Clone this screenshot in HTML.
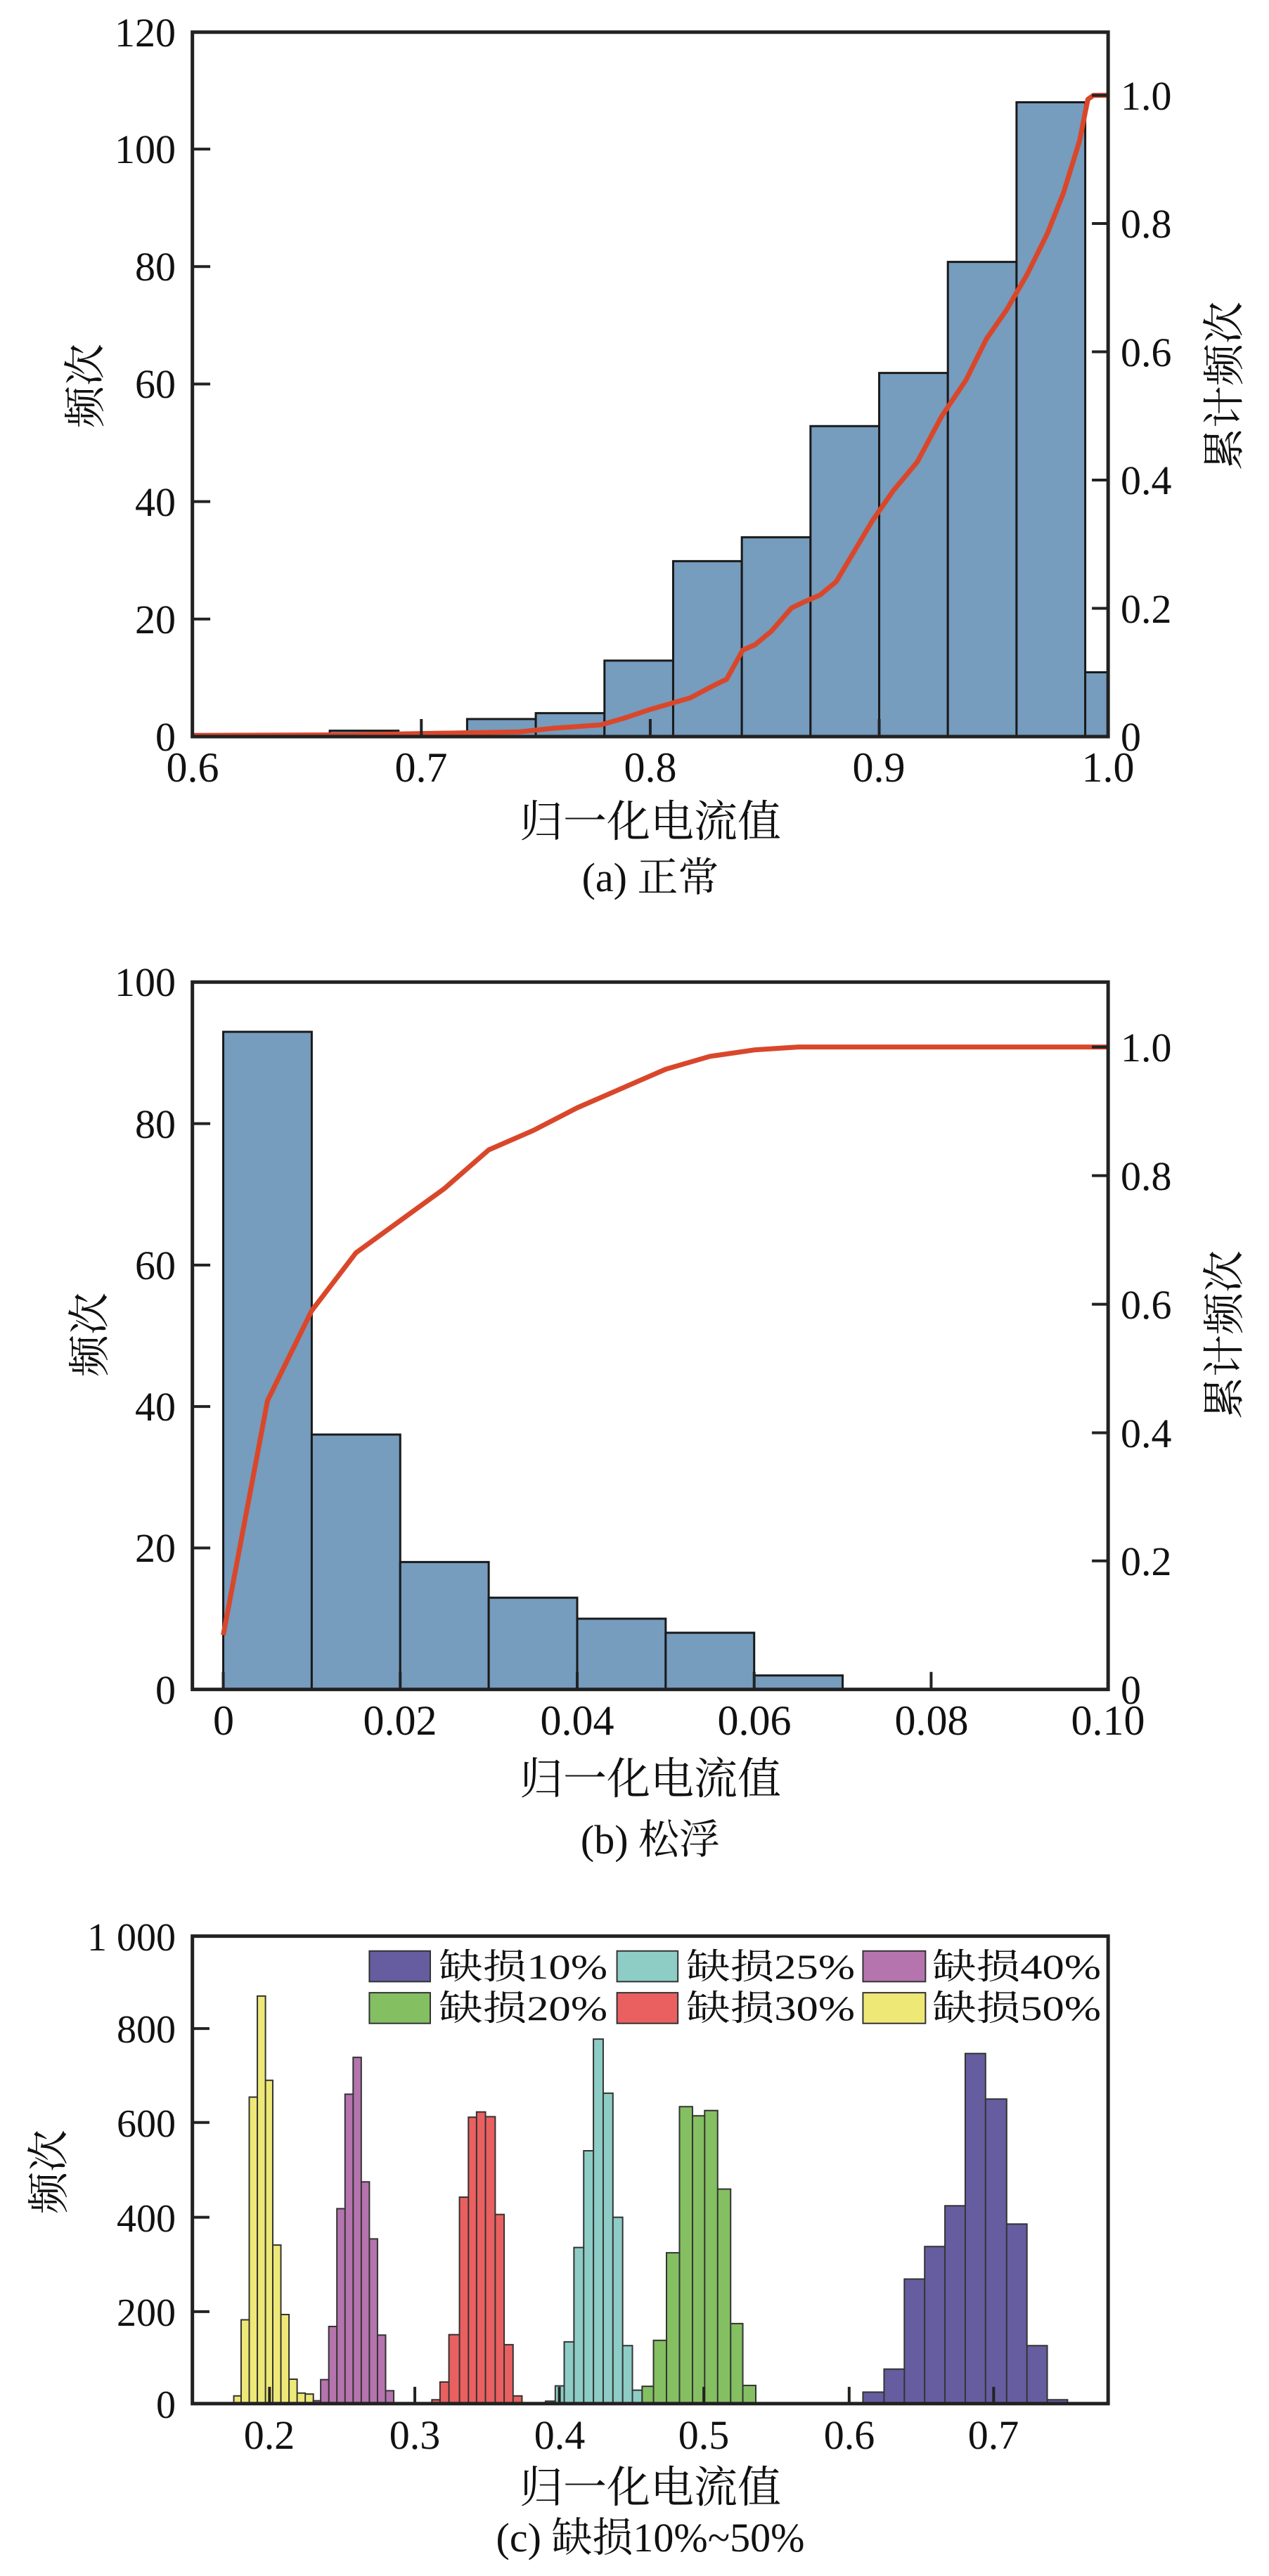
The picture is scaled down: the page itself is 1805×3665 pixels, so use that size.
<!DOCTYPE html>
<html><head><meta charset="utf-8"><style>
html,body{margin:0;padding:0;background:#fff;}
svg{display:block;}
text{font-family:"Liberation Serif","Noto Serif CJK SC","Noto Sans CJK SC",serif;fill:#111;}
</style></head><body>
<svg width="1805" height="3665" viewBox="0 0 1805 3665" xmlns="http://www.w3.org/2000/svg">
<rect width="1805" height="3665" fill="#fff"/>

<!-- ===== Panel (a) ===== -->
<g transform="translate(0,0) scale(1.1547,0.8317)">
 <g fill="#769CBE" stroke="#1a1a1a">
  <rect x="406.2" y="1250" width="84.6" height="10" stroke-width="3" vector-effect="non-scaling-stroke"/>
  <rect x="575.4" y="1230" width="84.6" height="30" stroke-width="3" vector-effect="non-scaling-stroke"/>
  <rect x="660" y="1220" width="84.6" height="40" stroke-width="3" vector-effect="non-scaling-stroke"/>
  <rect x="744.6" y="1130" width="84.6" height="130" stroke-width="3" vector-effect="non-scaling-stroke"/>
  <rect x="829.2" y="960" width="84.6" height="300" stroke-width="3" vector-effect="non-scaling-stroke"/>
  <rect x="913.8" y="919" width="84.6" height="341" stroke-width="3" vector-effect="non-scaling-stroke"/>
  <rect x="998.4" y="729" width="84.6" height="531" stroke-width="3" vector-effect="non-scaling-stroke"/>
  <rect x="1083" y="638" width="84.6" height="622" stroke-width="3" vector-effect="non-scaling-stroke"/>
  <rect x="1167.6" y="448" width="84.6" height="812" stroke-width="3" vector-effect="non-scaling-stroke"/>
  <rect x="1252.2" y="175" width="84.6" height="1085" stroke-width="3" vector-effect="non-scaling-stroke"/>
  <rect x="1336.8" y="1150" width="28.2" height="110" stroke-width="3" vector-effect="non-scaling-stroke"/>
 </g>
 <polyline fill="none" stroke="#D9472B" stroke-width="7" vector-effect="non-scaling-stroke" stroke-linejoin="round"
  points="237,1258 430,1257 640,1252 680,1246 740,1240 770,1228 800,1214 850,1194 880,1172 895,1162 915,1112 930,1103 950,1080 975,1040 990,1030 1010,1018 1030,995 1045,960 1075,890 1100,840 1115,815 1130,790 1160,712 1190,650 1215,580 1240,530 1265,470 1290,400 1310,330 1330,240 1340,170 1347,163 1365,163"/>
 <g stroke="#222">
  <line x1="237" y1="1059" x2="259" y2="1059" stroke-width="4" vector-effect="non-scaling-stroke"/>
  <line x1="237" y1="858" x2="259" y2="858" stroke-width="4" vector-effect="non-scaling-stroke"/>
  <line x1="237" y1="657" x2="259" y2="657" stroke-width="4" vector-effect="non-scaling-stroke"/>
  <line x1="237" y1="456" x2="259" y2="456" stroke-width="4" vector-effect="non-scaling-stroke"/>
  <line x1="237" y1="255" x2="259" y2="255" stroke-width="4" vector-effect="non-scaling-stroke"/>
  <line x1="1345" y1="1040.6" x2="1365" y2="1040.6" stroke-width="4" vector-effect="non-scaling-stroke"/>
  <line x1="1345" y1="821.2" x2="1365" y2="821.2" stroke-width="4" vector-effect="non-scaling-stroke"/>
  <line x1="1345" y1="601.8" x2="1365" y2="601.8" stroke-width="4" vector-effect="non-scaling-stroke"/>
  <line x1="1345" y1="382.4" x2="1365" y2="382.4" stroke-width="4" vector-effect="non-scaling-stroke"/>
  <line x1="1345" y1="163" x2="1365" y2="163" stroke-width="4" vector-effect="non-scaling-stroke"/>
  <line x1="519" y1="1260" x2="519" y2="1230" stroke-width="4" vector-effect="non-scaling-stroke"/>
  <line x1="801" y1="1260" x2="801" y2="1230" stroke-width="4" vector-effect="non-scaling-stroke"/>
  <line x1="1083" y1="1260" x2="1083" y2="1230" stroke-width="4" vector-effect="non-scaling-stroke"/>
 </g>
 <rect x="237" y="55" width="1128" height="1205" fill="none" stroke="#222" stroke-width="5" vector-effect="non-scaling-stroke"/>
</g>
<g font-size="58" text-anchor="end">
 <text x="250" y="1068">0</text><text x="250" y="901">20</text><text x="250" y="734">40</text>
 <text x="250" y="566">60</text><text x="250" y="399">80</text><text x="250" y="232">100</text><text x="250" y="66">120</text>
</g>
<g font-size="58" text-anchor="start">
 <text x="1594" y="1068">0</text><text x="1594" y="886">0.2</text><text x="1594" y="703">0.4</text>
 <text x="1594" y="521">0.6</text><text x="1594" y="338">0.8</text><text x="1594" y="156">1.0</text>
</g>
<g font-size="60" text-anchor="middle">
 <text x="274" y="1112">0.6</text><text x="599" y="1112">0.7</text><text x="925" y="1112">0.8</text>
 <text x="1250" y="1112">0.9</text><text x="1576" y="1112">1.0</text>
</g>
<text x="925" y="1190" font-size="62" text-anchor="middle">归一化电流值</text>
<text x="925" y="1268" font-size="58" text-anchor="middle">(a) 正常</text>
<text transform="translate(142,549) rotate(-90)" font-size="60" text-anchor="middle">频次</text>
<text transform="translate(1762,549) rotate(-90)" font-size="60" text-anchor="middle">累计频次</text>

<!-- ===== Panel (b) ===== -->
<g transform="translate(0,1300) scale(1.1547,0.8317)">
 <g fill="#769CBE" stroke="#1a1a1a">
  <rect x="275" y="202" width="109" height="1125" stroke-width="3" vector-effect="non-scaling-stroke"/>
  <rect x="384" y="891" width="109" height="436" stroke-width="3" vector-effect="non-scaling-stroke"/>
  <rect x="493" y="1109" width="109" height="218" stroke-width="3" vector-effect="non-scaling-stroke"/>
  <rect x="602" y="1170" width="109" height="157" stroke-width="3" vector-effect="non-scaling-stroke"/>
  <rect x="711" y="1206" width="109" height="121" stroke-width="3" vector-effect="non-scaling-stroke"/>
  <rect x="820" y="1230" width="109" height="97" stroke-width="3" vector-effect="non-scaling-stroke"/>
  <rect x="929" y="1303" width="109" height="24" stroke-width="3" vector-effect="non-scaling-stroke"/>
 </g>
 <polyline fill="none" stroke="#D9472B" stroke-width="7" vector-effect="non-scaling-stroke" stroke-linejoin="round"
  points="275,1234 329.5,833 384,679 438.5,580 493,525 547.5,470 602,404 656.5,371 711,332 765.5,299 820,266 874.5,244 929,233 983.5,228 1365,228"/>
 <g stroke="#222">
  <line x1="237" y1="1085" x2="259" y2="1085" stroke-width="4" vector-effect="non-scaling-stroke"/>
  <line x1="237" y1="843" x2="259" y2="843" stroke-width="4" vector-effect="non-scaling-stroke"/>
  <line x1="237" y1="601" x2="259" y2="601" stroke-width="4" vector-effect="non-scaling-stroke"/>
  <line x1="237" y1="359" x2="259" y2="359" stroke-width="4" vector-effect="non-scaling-stroke"/>
  <line x1="1345" y1="1107" x2="1365" y2="1107" stroke-width="4" vector-effect="non-scaling-stroke"/>
  <line x1="1345" y1="888" x2="1365" y2="888" stroke-width="4" vector-effect="non-scaling-stroke"/>
  <line x1="1345" y1="668" x2="1365" y2="668" stroke-width="4" vector-effect="non-scaling-stroke"/>
  <line x1="1345" y1="448" x2="1365" y2="448" stroke-width="4" vector-effect="non-scaling-stroke"/>
  <line x1="1345" y1="228" x2="1365" y2="228" stroke-width="4" vector-effect="non-scaling-stroke"/>
  <line x1="275" y1="1327" x2="275" y2="1297" stroke-width="4" vector-effect="non-scaling-stroke"/>
  <line x1="493" y1="1327" x2="493" y2="1297" stroke-width="4" vector-effect="non-scaling-stroke"/>
  <line x1="711" y1="1327" x2="711" y2="1297" stroke-width="4" vector-effect="non-scaling-stroke"/>
  <line x1="929" y1="1327" x2="929" y2="1297" stroke-width="4" vector-effect="non-scaling-stroke"/>
  <line x1="1147" y1="1327" x2="1147" y2="1297" stroke-width="4" vector-effect="non-scaling-stroke"/>
 </g>
 <rect x="237" y="117" width="1128" height="1210" fill="none" stroke="#222" stroke-width="5" vector-effect="non-scaling-stroke"/>
</g>
<g font-size="58" text-anchor="end">
 <text x="250" y="2424">0</text><text x="250" y="2222">20</text><text x="250" y="2021">40</text>
 <text x="250" y="1820">60</text><text x="250" y="1619">80</text><text x="250" y="1417">100</text>
</g>
<g font-size="58" text-anchor="start">
 <text x="1594" y="2424">0</text><text x="1594" y="2241">0.2</text><text x="1594" y="2059">0.4</text>
 <text x="1594" y="1876">0.6</text><text x="1594" y="1693">0.8</text><text x="1594" y="1510">1.0</text>
</g>
<g font-size="60" text-anchor="middle">
 <text x="318" y="2468">0</text><text x="569" y="2468">0.02</text><text x="821" y="2468">0.04</text>
 <text x="1073" y="2468">0.06</text><text x="1325" y="2468">0.08</text><text x="1576" y="2468">0.10</text>
</g>
<text x="925" y="2552" font-size="62" text-anchor="middle">归一化电流值</text>
<text x="925" y="2637" font-size="58" text-anchor="middle">(b) 松浮</text>
<text transform="translate(148,1899) rotate(-90)" font-size="60" text-anchor="middle">频次</text>
<text transform="translate(1762,1899) rotate(-90)" font-size="60" text-anchor="middle">累计频次</text>

<!-- ===== Panel (c) ===== -->
<g transform="translate(0,2600) scale(1.1547,0.68139)">
 <g fill="#EEE877" stroke="#333">
  <path vector-effect="non-scaling-stroke" stroke-width="2" d="M288,1203V1187H297V1203ZM297,1203V1028H307V1203ZM307,1203V563H317V1203ZM317,1203V352H327V1203ZM327,1203V528H336V1203ZM336,1203V872H346V1203ZM346,1203V1017H356V1203ZM356,1203V1152H366V1203ZM366,1203V1181H376V1203ZM376,1203V1183H386V1203Z"/>
 </g>
 <g fill="#B574AE" stroke="#333">
  <path vector-effect="non-scaling-stroke" stroke-width="2" d="M386,1203V1197H395V1203ZM395,1203V1153H405V1203ZM405,1203V1042H415V1203ZM415,1203V796H425V1203ZM425,1203V557H435V1203ZM435,1203V480H445V1203ZM445,1203V740H455V1203ZM455,1203V859H465V1203ZM465,1203V1060H475V1203ZM475,1203V1176H485V1203Z"/>
 </g>
 <g fill="#EA6060" stroke="#333">
  <path vector-effect="non-scaling-stroke" stroke-width="2" d="M532,1203V1195H542V1203ZM542,1203V1158H553V1203ZM553,1203V1059H566V1203ZM566,1203V772H577V1203ZM577,1203V605H587V1203ZM587,1203V594H598V1203ZM598,1203V604H610V1203ZM610,1203V808H621V1203ZM621,1203V1080H632V1203ZM632,1203V1187H643V1203Z"/>
 </g>
 <g fill="#8ECCC6" stroke="#333">
  <path vector-effect="non-scaling-stroke" stroke-width="2" d="M672,1203V1198H684V1203ZM684,1203V1166H695V1203ZM695,1203V1074H707V1203ZM707,1203V877H719V1203ZM719,1203V675H731V1203ZM731,1203V442H743V1203ZM743,1203V555H755V1203ZM755,1203V814H767V1203ZM767,1203V1082H779V1203ZM779,1203V1175H791V1203Z"/>
 </g>
 <g fill="#84BF62" stroke="#333">
  <path vector-effect="non-scaling-stroke" stroke-width="2" d="M791,1203V1167H805V1203ZM805,1203V1071H821V1203ZM821,1203V888H837V1203ZM837,1203V583H853V1203ZM853,1203V602H868V1203ZM868,1203V591H884V1203ZM884,1203V755H900V1203ZM900,1203V1036H915V1203ZM915,1203V1165H931V1203Z"/>
 </g>
 <g fill="#655D9F" stroke="#333">
  <path vector-effect="non-scaling-stroke" stroke-width="2" d="M1063,1203V1179H1089V1203ZM1089,1203V1131H1114V1203ZM1114,1203V943H1139V1203ZM1139,1203V875H1164V1203ZM1164,1203V790H1189V1203ZM1189,1203V472H1214V1203ZM1214,1203V567H1240V1203ZM1240,1203V828H1265V1203ZM1265,1203V1082H1290V1203ZM1290,1203V1195H1315V1203Z"/>
 </g>
 <g stroke="#222">
  <line x1="237" y1="1011" x2="258" y2="1011" stroke-width="4" vector-effect="non-scaling-stroke"/>
  <line x1="237" y1="814" x2="258" y2="814" stroke-width="4" vector-effect="non-scaling-stroke"/>
  <line x1="237" y1="616" x2="258" y2="616" stroke-width="4" vector-effect="non-scaling-stroke"/>
  <line x1="237" y1="420" x2="258" y2="420" stroke-width="4" vector-effect="non-scaling-stroke"/>
  <line x1="332" y1="1203" x2="332" y2="1168" stroke-width="4" vector-effect="non-scaling-stroke"/>
  <line x1="511" y1="1203" x2="511" y2="1168" stroke-width="4" vector-effect="non-scaling-stroke"/>
  <line x1="689" y1="1203" x2="689" y2="1168" stroke-width="4" vector-effect="non-scaling-stroke"/>
  <line x1="867" y1="1203" x2="867" y2="1168" stroke-width="4" vector-effect="non-scaling-stroke"/>
  <line x1="1046" y1="1203" x2="1046" y2="1168" stroke-width="4" vector-effect="non-scaling-stroke"/>
  <line x1="1224" y1="1203" x2="1224" y2="1168" stroke-width="4" vector-effect="non-scaling-stroke"/>
 </g>
 <g stroke="#333">
  <rect x="455" y="258" width="75" height="64" fill="#655D9F" stroke-width="2" vector-effect="non-scaling-stroke"/>
  <rect x="760" y="258" width="75" height="64" fill="#8ECCC6" stroke-width="2" vector-effect="non-scaling-stroke"/>
  <rect x="1063" y="258" width="77" height="64" fill="#B574AE" stroke-width="2" vector-effect="non-scaling-stroke"/>
  <rect x="455" y="345" width="75" height="64" fill="#84BF62" stroke-width="2" vector-effect="non-scaling-stroke"/>
  <rect x="760" y="345" width="75" height="64" fill="#EA6060" stroke-width="2" vector-effect="non-scaling-stroke"/>
  <rect x="1063" y="345" width="77" height="64" fill="#EEE877" stroke-width="2" vector-effect="non-scaling-stroke"/>
 </g>
 <rect x="237" y="227" width="1128" height="976" fill="none" stroke="#222" stroke-width="5" vector-effect="non-scaling-stroke"/>
</g>
<g font-size="50">
 <text x="624" y="2815" textLength="240" lengthAdjust="spacingAndGlyphs">缺损10%</text>
 <text x="976" y="2815" textLength="240" lengthAdjust="spacingAndGlyphs">缺损25%</text>
 <text x="1326" y="2815" textLength="240" lengthAdjust="spacingAndGlyphs">缺损40%</text>
 <text x="624" y="2874" textLength="240" lengthAdjust="spacingAndGlyphs">缺损20%</text>
 <text x="976" y="2874" textLength="240" lengthAdjust="spacingAndGlyphs">缺损30%</text>
 <text x="1326" y="2874" textLength="240" lengthAdjust="spacingAndGlyphs">缺损50%</text>
</g>
<g font-size="56" text-anchor="end">
 <text x="250" y="3440">0</text><text x="250" y="3309">200</text><text x="250" y="3175">400</text>
 <text x="250" y="3040">600</text><text x="250" y="2906">800</text><text x="250" y="2775">1 000</text>
</g>
<g font-size="58" text-anchor="middle">
 <text x="383" y="3484">0.2</text><text x="590" y="3484">0.3</text><text x="796" y="3484">0.4</text>
 <text x="1001" y="3484">0.5</text><text x="1208" y="3484">0.6</text><text x="1413" y="3484">0.7</text>
</g>
<text x="925" y="3560" font-size="62" text-anchor="middle">归一化电流值</text>
<text x="925" y="3630" font-size="58" text-anchor="middle">(c) 缺损10%~50%</text>
<text transform="translate(90,3090) rotate(-90)" font-size="60" text-anchor="middle">频次</text>
</svg>
</body></html>
